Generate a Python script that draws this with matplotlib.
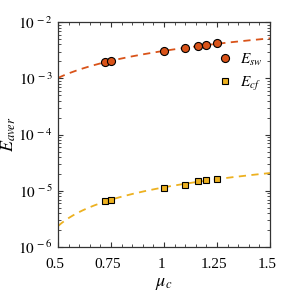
import numpy as np
import matplotlib
matplotlib.use("Agg")
import matplotlib.pyplot as plt
import matplotlib.transforms as mtransforms
from matplotlib.ticker import MultipleLocator, LogLocator, NullFormatter

plt.rcParams['font.family'] = 'Liberation Serif'
plt.rcParams['mathtext.fontset'] = 'stix'

# data
mu_c = [0.72, 0.75, 1.0, 1.1, 1.16, 1.2, 1.25]
E_sw = [1.97e-3, 2.05e-3, 3.05e-3, 3.4e-3, 3.74e-3, 3.95e-3, 4.17e-3]
E_cf = [6.7e-6, 7.0e-6, 1.1e-5, 1.28e-5, 1.48e-5, 1.55e-5, 1.63e-5]
xticks = [0.5, 0.75, 1, 1.25, 1.5]
xticklabels = ['0.5', '0.75', '1', '1.25', '1.5']
yticks = [1e-6, 1e-5, 1e-4, 1e-3, 1e-2]
yticklabels = ['$10^{\\,-6}$', '$10^{\\,-5}$', '$10^{\\,-4}$', '$10^{\\,-3}$', '$10^{\\,-2}$']

c_sw = '#D95319'
c_cf = '#EDB120'

fig = plt.figure(figsize=(2.98, 2.91), dpi=100)
ax = fig.add_axes([0.195, 0.151, 0.711, 0.773])

# linear fits, drawn over the whole x range
xx = np.linspace(0.5, 1.5, 200)
p_sw = np.polyfit(mu_c, E_sw, 1)
p_cf = np.polyfit(mu_c, E_cf, 1)
ax.plot(xx, np.polyval(p_sw, xx), '--', color=c_sw, lw=1.3, dashes=(4, 3))
ax.plot(xx, np.polyval(p_cf, xx), '--', color=c_cf, lw=1.3, dashes=(4, 3))

ax.plot(mu_c, E_sw, 'o', color=c_sw, mec='k', mew=0.8, ms=5.8, label='$E_{sw}$')
ax.plot(mu_c, E_cf, 's', color=c_cf, mec='k', mew=0.8, ms=4.6, label='$E_{cf}$')

ax.set_yscale('log')
ax.set_xlim(0.5, 1.5)
ax.set_ylim(1e-6, 1e-2)
ax.set_xticks(xticks)
ax.set_xticklabels(xticklabels)
ax.set_yticks(yticks)
ax.set_yticklabels(yticklabels)
ax.xaxis.set_minor_locator(MultipleLocator(0.05))
ax.yaxis.set_minor_locator(LogLocator(base=10, subs=np.arange(2, 10)))
ax.yaxis.set_minor_formatter(NullFormatter())
ax.tick_params(which='both', direction='in', top=True, right=True,
               labelsize=11, color='#333333')
ax.tick_params(axis='x', pad=8)
ax.tick_params(axis='y', pad=4)
ax.tick_params(which='major', length=3.5, width=0.8)
ax.tick_params(which='minor', length=2, width=0.6)
for s in ax.spines.values():
    s.set_color('#333333')
    s.set_linewidth(0.9)

# x tick labels sit a little left of their ticks in the original
shift = mtransforms.ScaledTranslation(-3 / 100, 0, fig.dpi_scale_trans)
for lbl in ax.get_xticklabels():
    lbl.set_transform(lbl.get_transform() + shift)

ax.set_xlabel('$\\mu_c$', fontsize=13)
ax.xaxis.set_label_coords(0.5, -0.125)
ax.set_ylabel('$E_{aver}$', fontsize=13)
ax.yaxis.set_label_coords(-0.19, 0.5)

ax.legend(loc='upper right', bbox_to_anchor=(1.03, 0.93), frameon=False,
          fontsize=11, handletextpad=0.3, labelspacing=0.45, handlelength=1.4)

fig.savefig('out.png', dpi=100)
